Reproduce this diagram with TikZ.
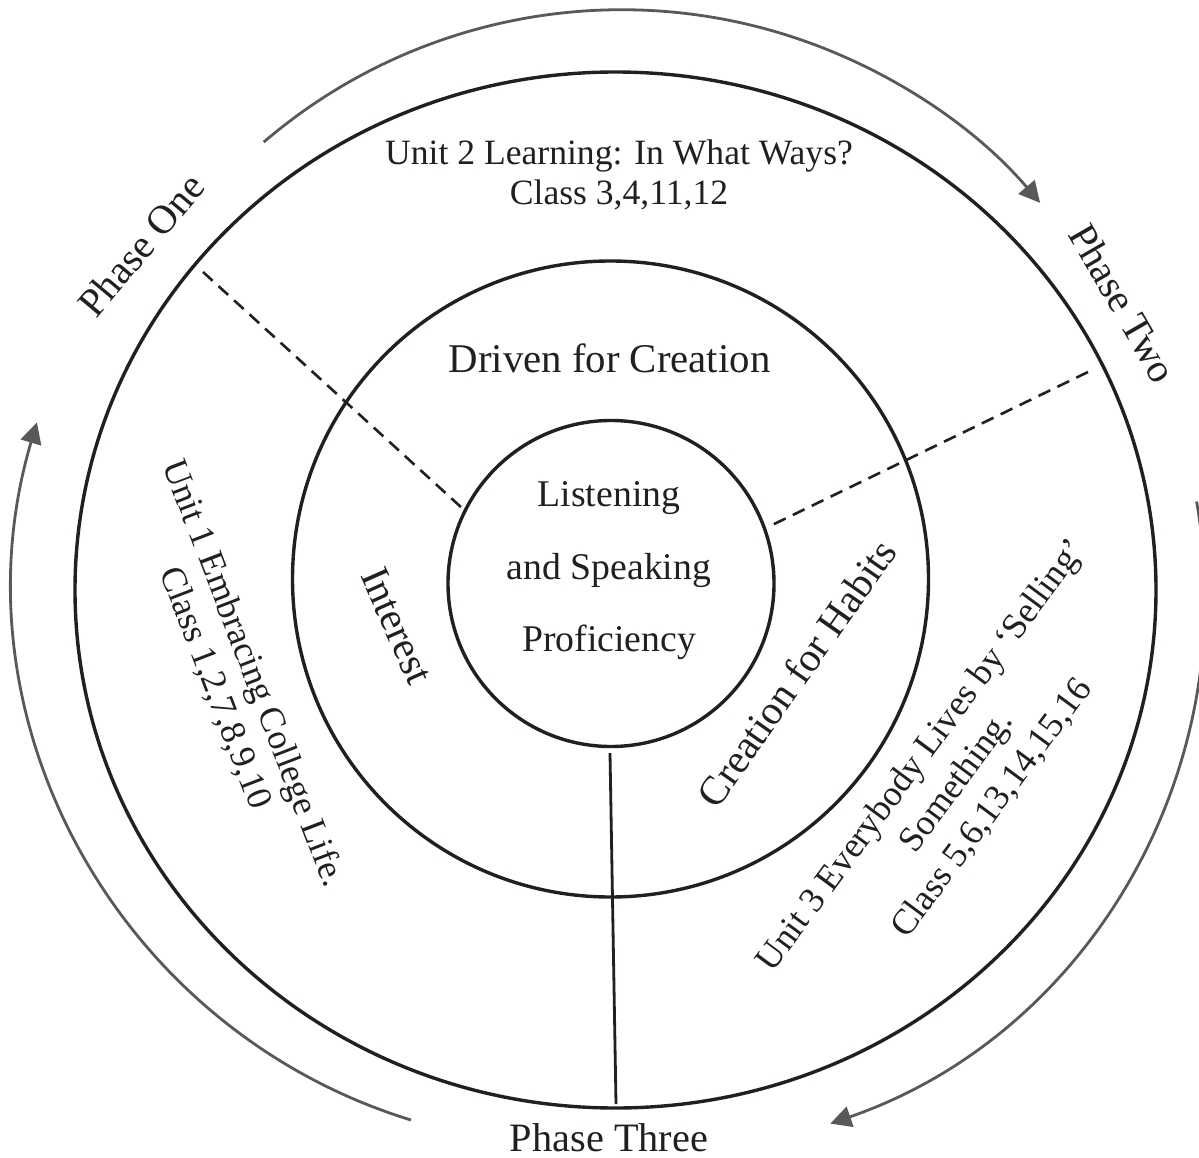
\documentclass[tikz,border=0pt]{standalone}
\usepackage{fontspec}
\setmainfont{Liberation Serif}
\usetikzlibrary{arrows.meta}
\definecolor{ink}{HTML}{231F20}
\definecolor{arrowgray}{HTML}{58595B}
\begin{document}
\begin{tikzpicture}[x=1pt,y=-1pt,
  ring/.style={draw=ink, line width=3.4pt},
  phasearc/.style={draw=arrowgray, line width=2.8pt, -{Triangle[length=21pt,width=21pt]}},
  divider/.style={draw=ink, line width=2.6pt, dash pattern=on 13pt off 8pt},
  spoke/.style={draw=ink, line width=2.8pt},
  lbl/.style={text=ink, inner sep=0pt, align=center},
  phase/.style={lbl, font=\fontsize{40.3}{48}\selectfont},
  ringtext/.style={lbl, font=\fontsize{40.8}{48}\selectfont},
  coretext/.style={lbl, font=\fontsize{37.7}{72.5}\selectfont},
]
\useasboundingbox (0,0) rectangle (1199,1158);
\fill[white] (0,0) rectangle (1199,1158);

% rings
\draw[ring] (615.5,590) ellipse [x radius=540.5, y radius=518];
\draw[ring] (610.5,579) circle [radius=318];
\draw[ring] (611,583.5) circle [radius=163];

% phase arrows
\begin{scope}
\clip (0,0) rectangle (1199,1158);
\draw[phasearc] (621.6,559.7) ++(-130.6:550) arc[start angle=-130.6, end angle=-40.45, radius=550];
\draw[phasearc] (649,598) ++(-10:556) arc[start angle=-10, end angle=70.97, radius=556];
\draw[phasearc] (576.4,582.2) ++(107.1:562.7) arc[start angle=107.1, end angle=196.5, radius=562.7];
\end{scope}

% dividers
\coordinate (d1a) at (203,272);
\coordinate (d1b) at (462,508);
\coordinate (d2a) at (1088,372);
\coordinate (d2b) at (768,527);
\coordinate (vt) at (610,753);
\coordinate (vb) at (616,1104);
\draw[divider] (d1a) -- (d1b);
\draw[divider] (d2a) -- (d2b);
\draw[spoke] (vt) -- (vb);

% texts
\node[lbl, font=\fontsize{35.6}{40}\selectfont] (unit2) at (619,175) {Unit 2 Learning: In What Ways?\\Class 3,4,11,12};
\node[ringtext] (driven) at (609.5,358) {Driven for Creation};
\node[coretext] (core) at (609,571) {Listening\\and Speaking\\Proficiency};
\node[ringtext, rotate=-66] (interest) at (397,626) {Interest};
\node[ringtext, rotate=55] (habits) at (796.5,673) {Creation for Habits};
\node[lbl, font=\fontsize{35.8}{41}\selectfont, rotate=-69] (unit1) at (234,681) {Unit 1 Embracing College Life.\\Class 1,2,7,8,9,10};
\node[lbl, font=\fontsize{36}{44}\selectfont, rotate=53.5] (unit3) at (957,782) {Unit 3 Everybody Lives by ‘Selling’\\Something.\\Class 5,6,13,14,15,16};
\node[phase, rotate=50] (p1) at (141,245) {Phase One};
\node[phase, rotate=-60] (p2) at (1123,303) {Phase Two};
\node[phase] (p3) at (609,1138) {Phase Three};
\end{tikzpicture}
\end{document}
